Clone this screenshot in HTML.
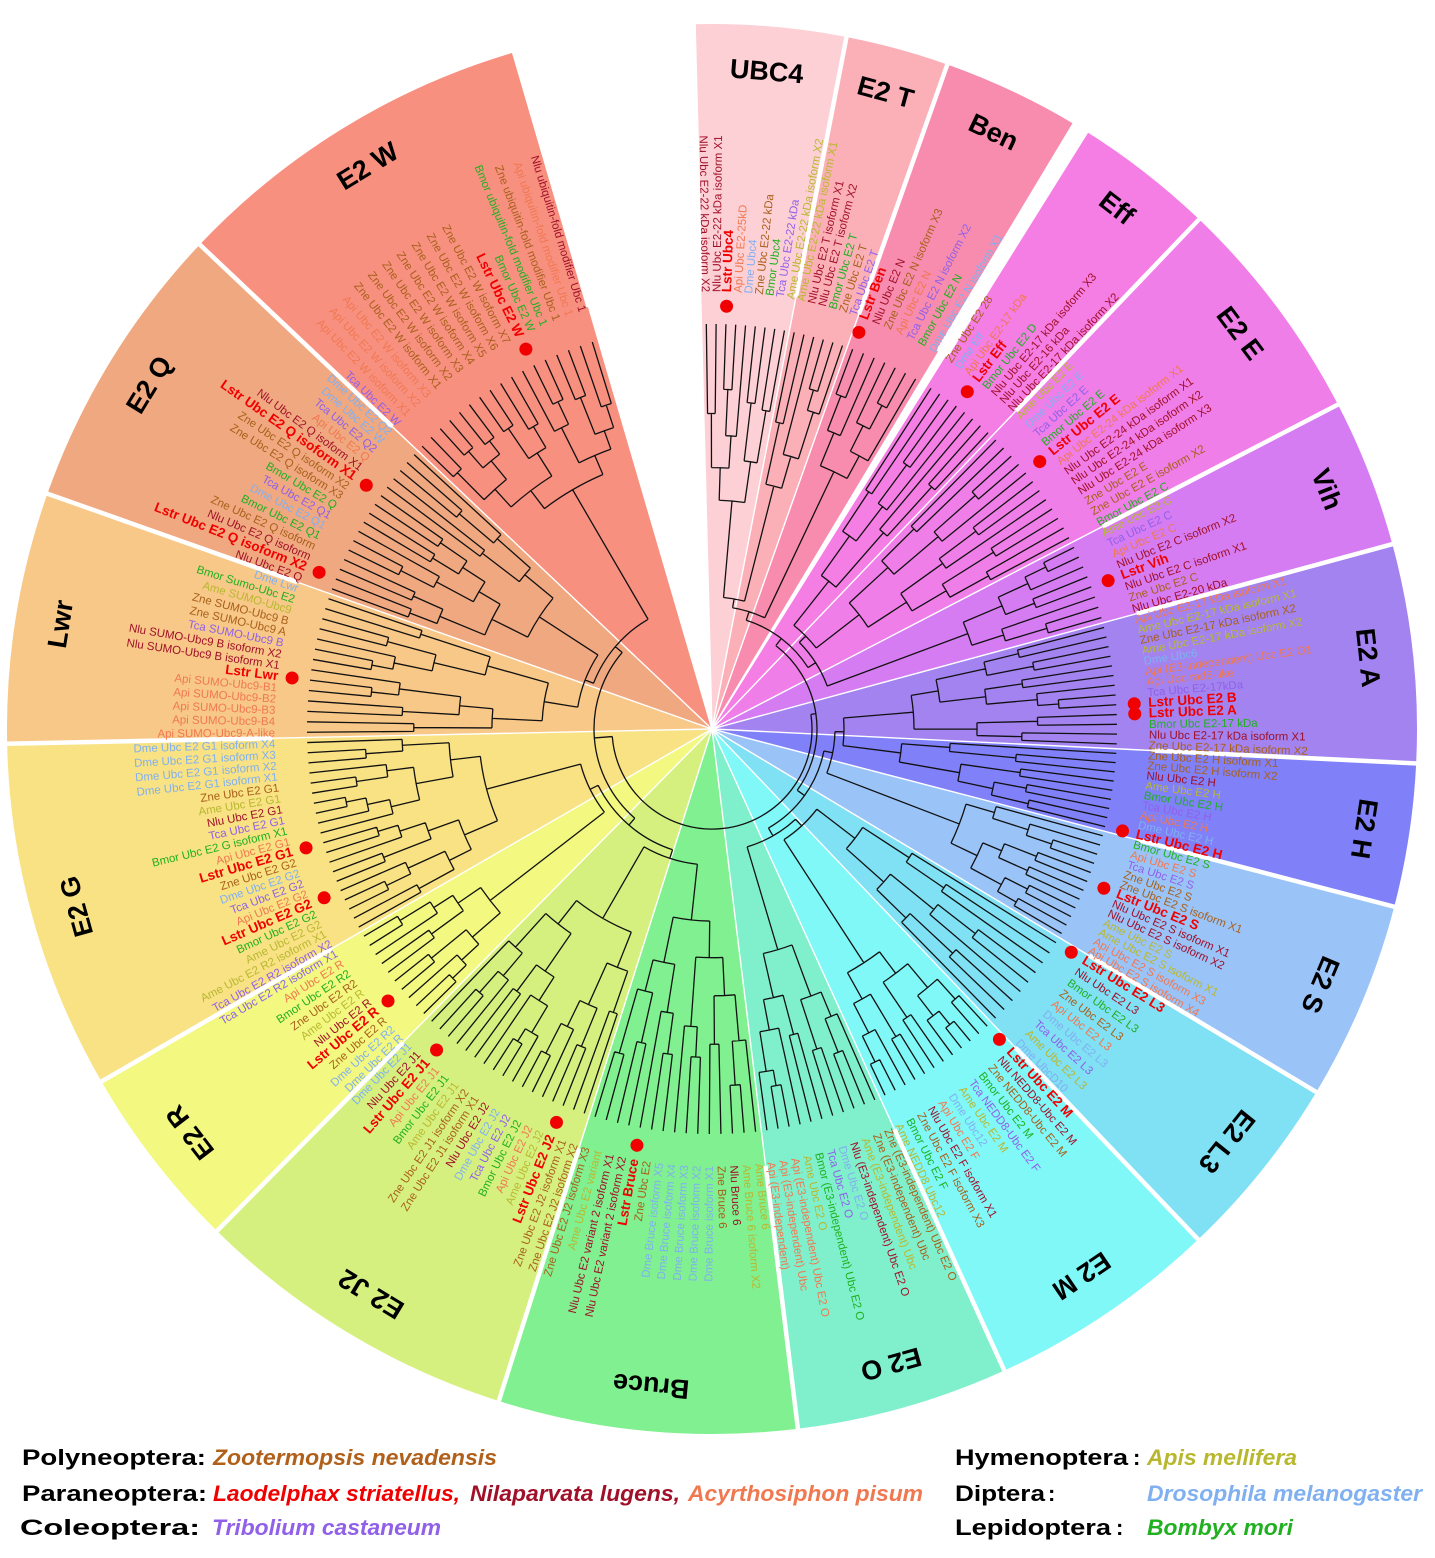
<!DOCTYPE html>
<html><head><meta charset="utf-8">
<style>
html,body{margin:0;padding:0;background:#fff;}
svg{display:block;font-family:"Liberation Sans",Arial,sans-serif;}
.lf text{font-size:11.5px;}
.z{fill:#a8601a}.n{fill:#a01028}.a{fill:#f07850}.d{fill:#80b0f0}.m{fill:#b8b830}.t{fill:#9060e8}.b{fill:#20b020}
.l{fill:#f00000;font-weight:bold;font-size:13.5px!important}
.ti{font-size:27px;font-weight:bold;fill:#000}
.lg{font-size:22px;font-weight:bold}
.lg .i{font-style:italic}
</style></head><body>
<svg id="sv" width="1435" height="1558" viewBox="0 0 1435 1558" xmlns="http://www.w3.org/2000/svg">
<g id="wedges"></g>
<g id="seps"></g>
<path id="tree" fill="none" stroke="#111" stroke-width="1.3"/>
<g id="dots"></g>
<g id="titles">
<text class="ti">UBC4</text><text class="ti">E2 T</text><text class="ti">Ben</text><text class="ti">Eff</text><text class="ti">E2 E</text><text class="ti">Vih</text><text class="ti">E2 A</text><text class="ti">E2 H</text><text class="ti">E2 S</text><text class="ti">E2 L3</text><text class="ti">E2 M</text><text class="ti">E2 O</text><text class="ti">Bruce</text><text class="ti">E2 J2</text><text class="ti">E2 R</text><text class="ti">E2 G</text><text class="ti">Lwr</text><text class="ti">E2 Q</text><text class="ti">E2 W</text>
</g>
<g class="lf" id="s0"><text class="n">Nlu Ubc E2-22 kDa isoform X2</text><text class="n">Nlu Ubc E2-22 kDa isoform X1</text><text class="l">Lstr Ubc4</text><text class="a">Api Ubc E2-25kD</text><text class="d">Dme Ubc4</text><text class="z">Zne Ubc E2-22 kDa</text><text class="b">Bmor Ubc4</text><text class="t">Tca Ubc E2-22 kDa</text><text class="m">Ame Ubc E2-22 kDa isoform X2</text></g>
<g class="lf" id="s1"><text class="m">Ame Ubc E2-22 kDa isoform X1</text><text class="n">Nlu Ubc E2 T isoform X1</text><text class="n">Nlu Ubc E2 T isoform X2</text><text class="b">Bmor Ubc E2 T</text><text class="z">Zne Ubc E2 T</text><text class="t">Tca Ubc E2 T</text></g>
<g class="lf" id="s2"><text class="l">Lstr Ben</text><text class="n">Nlu Ubc E2 N</text><text class="z">Zne Ubc E2 N isoform X3</text><text class="a">Api Ubc E2 N</text><text class="t">Tca Ubc E2 N isoform X2</text><text class="b">Bmor Ubc E2 N</text><text class="d">Dme Ubc E2 N isoform X1</text></g>
<g class="lf" id="s3"><text class="z">Zne Ubc E2 28</text><text class="d">Dme Eff</text><text class="a">Api Ubc E2-17 kDa</text><text class="l">Lstr Eff</text><text class="b">Bmor Ubc E2 D</text><text class="n">Nlu Ubc E2-17 kDa isoform X3</text><text class="n">Nlu Ubc E2-16 kDa</text><text class="n">Nlu Ubc E2-17 kDa isoform X2</text></g>
<g class="lf" id="s4"><text class="m">Ame Ubc E2 E</text><text class="d">Dme Ubc E2 E</text><text class="t">Tca Ubc E2 E</text><text class="b">Bmor Ubc E2 E</text><text class="l">Lstr Ubc E2 E</text><text class="a">Api Ubc E2-24 kDa isoform X1</text><text class="n">Nlu Ubc E2-24 kDa isoform X1</text><text class="n">Nlu Ubc E2-24 kDa isoform X2</text><text class="n">Nlu Ubc E2-24 kDa isoform X3</text><text class="z">Zne Ubc E2 E</text><text class="z">Zne Ubc E2 E isoform X2</text><text class="b">Bmor Ubc E2 C</text></g>
<g class="lf" id="s5"><text class="m">Ame Ubc E2 C</text><text class="t">Tca Ubc E2 C</text><text class="a">Api Ubc E2 C</text><text class="n">Nlu Ubc E2 C isoform X2</text><text class="l">Lstr Vih</text><text class="n">Nlu Ubc E2 C isoform X1</text><text class="z">Zne Ubc E2 C</text><text class="n">Nlu Ubc E2-20 kDa</text></g>
<g class="lf" id="s6"><text class="a">Api Ubc E2-17 kDa isoform X1</text><text class="m">Ame Ubc E2-17 kDa isoform X1</text><text class="z">Zne Ubc E2-17 kDa isoform X2</text><text class="m">Ame Ubc E2-17 kDa isoform X2</text><text class="d">Dme Ubc6</text><text class="a">Api (E3-independent) Ubc E2 O1</text><text class="a">Api Ubc rad6-like</text><text class="t">Tca Ubc E2-17kDa</text><text class="l">Lstr Ubc E2 B</text><text class="l">Lstr Ubc E2 A</text><text class="b">Bmor Ubc E2-17 kDa</text><text class="n">Nlu Ubc E2-17 kDa isoform X1</text><text class="z">Zne Ubc E2-17 kDa isoform X2</text></g>
<g class="lf" id="s7"><text class="z">Zne Ubc E2 H isoform X1</text><text class="z">Zne Ubc E2 H isoform X2</text><text class="n">Nlu Ubc E2 H</text><text class="m">Ame Ubc E2 H</text><text class="b">Bmor Ubc E2 H</text><text class="t">Tca Ubc E2 H</text><text class="a">Api Ubc E2 H</text><text class="d">Dme Ubc E2 H</text><text class="l">Lstr Ubc E2 H</text></g>
<g class="lf" id="s8"><text class="b">Bmor Ubc E2 S</text><text class="a">Api Ubc E2 S</text><text class="t">Tca Ubc E2 S</text><text class="z">Zne Ubc E2 S</text><text class="z">Zne Ubc E2 S isoform X1</text><text class="l">Lstr Ubc E2 S</text><text class="n">Nlu Ubc E2 S isoform X1</text><text class="n">Nlu Ubc E2 S isoform X2</text><text class="m">Ame Ubc E2 S</text><text class="m">Ame Ubc E2 S isoform X1</text><text class="a">Api Ubc E2 S isoform X3</text><text class="a">Api Ubc E2 S isoform X4</text></g>
<g class="lf" id="s9"><text class="l">Lstr Ubc E2 L3</text><text class="n">Nlu Ubc E2 L3</text><text class="b">Bmor Ubc E2 L3</text><text class="z">Zne Ubc E2 L3</text><text class="a">Api Ubc E2 L3</text><text class="d">Dme Ubc E2 L3</text><text class="t">Tca Ubc E2 L3</text><text class="m">Ame Ubc E2 L3</text><text class="d">Dme UbcD10</text></g>
<g class="lf" id="s10"><text class="l">Lstr Ubc E2 M</text><text class="n">Nlu NEDD8-Ubc E2 M</text><text class="z">Zne NEDD8-Ubc E2 M</text><text class="b">Bmor Ubc E2 M</text><text class="t">Tca NEDD8-Ubc E2 F</text><text class="m">Ame Ubc E2 M</text><text class="d">Dme Ubc12</text><text class="a">Api Ubc E2 F</text><text class="n">Nlu Ubc E2 F isoform X1</text><text class="z">Zne Ubc E2 F isoform X3</text><text class="b">Bmor Ubc E2 F</text><text class="m">Ame NEDD8 Ubc12</text></g>
<g class="lf" id="s11"><text class="z">Zne (E3-independent) Ubc E2 O</text><text class="z">Zne (E3-independent) Ubc</text><text class="m">Ame (E3-independent) Ubc</text><text class="n">Nlu (E3-independent) Ubc E2 O</text><text class="d">Dme Ubc E2 O</text><text class="t">Tca Ubc E2 O</text><text class="b">Bmor (E3-independent) Ubc E2 O</text><text class="m">Ame Ubc E2 O</text><text class="a">Api (E3-independent) Ubc E2 O</text><text class="a">Api (E3-independent) Ubc</text><text class="a">Api (E3-independent)</text></g>
<g class="lf" id="s12"><text class="m">Ame Bruce 6</text><text class="m">Ame Bruce 6 isoform X2</text><text class="n">Nlu Bruce 6</text><text class="z">Zne Bruce 6</text><text class="d">Dme Bruce isoform X1</text><text class="d">Dme Bruce isoform X2</text><text class="d">Dme Bruce isoform X3</text><text class="d">Dme Bruce isoform X4</text><text class="d">Dme Bruce isoform X5</text><text class="z">Zne Ubc E2</text><text class="l">Lstr Bruce</text><text class="n">Nlu Ubc E2 variant 2 isoform X2</text><text class="n">Nlu Ubc E2 variant 2 isoform X1</text><text class="m">Ame Ubc E2 variant</text><text class="z">Zne Ubc E2 J2 isoform X3</text></g>
<g class="lf" id="s13"><text class="z">Zne Ubc E2 J2 isoform X2</text><text class="z">Zne Ubc E2 J2 isoform X1</text><text class="l">Lstr Ubc E2 J2</text><text class="m">Ame Ubc E2 J2</text><text class="a">Api Ubc E2 J2</text><text class="b">Bmor Ubc E2 J2</text><text class="t">Tca Ubc E2 J2</text><text class="d">Dme Ubc E2 J2</text><text class="n">Nlu Ubc E2 J2</text><text class="z">Zne Ubc E2 J1 isoform X1</text><text class="z">Zne Ubc E2 J1 isoform X2</text><text class="m">Ame Ubc E2 J1</text><text class="b">Bmor Ubc E2 J1</text><text class="a">Api Ubc E2 J1</text><text class="l">Lstr Ubc E2 J1</text><text class="n">Nlu Ubc E2 J1</text><text class="d">Dme Ubc E2 J1</text></g>
<g class="lf" id="s14"><text class="d">Dme Ubc E2 R</text><text class="d">Dme Ubc E2 R2</text><text class="z">Zne Ubc E2 R</text><text class="l">Lstr Ubc E2 R</text><text class="n">Nlu Ubc E2 R</text><text class="m">Ame Ubc E2 R</text><text class="z">Zne Ubc E2 R2</text><text class="b">Bmor Ubc E2 R2</text><text class="a">Api Ubc E2 R</text><text class="t">Tca Ubc E2 R2 isoform X1</text></g>
<g class="lf" id="s15"><text class="t">Tca Ubc E2 R2 isoform X2</text><text class="m">Ame Ubc E2 R2 isoform X1</text><text class="m">Ame Ubc E2 G2</text><text class="b">Bmor Ubc E2 G2</text><text class="l">Lstr Ubc E2 G2</text><text class="a">Api Ubc E2 G2</text><text class="t">Tca Ubc E2 G2</text><text class="d">Dme Ubc E2 G2</text><text class="z">Zne Ubc E2 G2</text><text class="l">Lstr Ubc E2 G1</text><text class="a">Api Ubc E2 G1</text><text class="b">Bmor Ubc E2 G isoform X1</text><text class="t">Tca Ubc E2 G1</text><text class="n">Nlu Ubc E2 G1</text><text class="m">Ame Ubc E2 G1</text><text class="z">Zne Ubc E2 G1</text><text class="d">Dme Ubc E2 G1 isoform X1</text><text class="d">Dme Ubc E2 G1 isoform X2</text><text class="d">Dme Ubc E2 G1 isoform X3</text><text class="d">Dme Ubc E2 G1 isoform X4</text></g>
<g class="lf" id="s16"><text class="a">Api SUMO-Ubc9-A-like</text><text class="a">Api SUMO-Ubc9-B4</text><text class="a">Api SUMO-Ubc9-B3</text><text class="a">Api SUMO-Ubc9-B2</text><text class="a">Api SUMO-Ubc9-B1</text><text class="l">Lstr Lwr</text><text class="n">Nlu SUMO-Ubc9 B isoform X1</text><text class="n">Nlu SUMO-Ubc9 B isoform X2</text><text class="t">Tca SUMO-Ubc9 B</text><text class="z">Zne SUMO-Ubc9 A</text><text class="z">Zne SUMO-Ubc9 B</text><text class="m">Ame SUMO-Ubc9</text><text class="b">Bmor Sumo-Ubc E2</text><text class="d">Dme Lwr</text></g>
<g class="lf" id="s17"><text class="n">Nlu Ubc E2 Q</text><text class="l">Lstr Ubc E2 Q isoform X2</text><text class="n">Nlu Ubc E2 Q isoform</text><text class="z">Zne Ubc E2 Q isoform</text><text class="b">Bmor Ubc E2 Q1</text><text class="d">Dme Ubc E2 Q1</text><text class="t">Tca Ubc E2 Q1</text><text class="b">Bmor Ubc E2 Q</text><text class="z">Zne Ubc E2 Q isoform X3</text><text class="z">Zne Ubc E2 Q isoform X2</text><text class="l">Lstr Ubc E2 Q isoform X1</text><text class="n">Nlu Ubc E2 Q isoform X1</text><text class="a">Api Ubc E2 Q</text><text class="t">Tca Ubc E2 Q2</text><text class="d">Dme Ubc E2 W</text><text class="d">Dme Ubc E2 Q2</text></g>
<g class="lf" id="s18"><text class="t">Tca Ubc E2 W</text><text class="a">Api Ubc E2 W isoform X1</text><text class="a">Api Ubc E2 W isoform X2</text><text class="a">Api Ubc E2 W isoform X3</text><text class="z">Zne Ubc E2 W isoform X1</text><text class="z">Zne Ubc E2 W isoform X2</text><text class="z">Zne Ubc E2 W isoform X3</text><text class="z">Zne Ubc E2 W isoform X4</text><text class="z">Zne Ubc E2 W isoform X5</text><text class="z">Zne Ubc E2 W isoform X6</text><text class="z">Zne Ubc E2 W isoform X7</text><text class="l">Lstr Ubc E2 W</text><text class="b">Bmor Ubc E2 W</text><text class="b">Bmor ubiquitin-fold modifier Ubc 1</text><text class="z">Zne ubiquitin-fold modifier Ubc 1</text><text class="a">Api ubiquitin-fold modifier Ubc 1</text><text class="n">Nlu ubiquitin-fold modifier Ubc 1</text></g>
<g class="lg">
<text x="22" y="1465" fill="#000" textLength="184" lengthAdjust="spacingAndGlyphs">Polyneoptera:</text><text x="213" y="1465" class="i" fill="#b0601a" textLength="284" lengthAdjust="spacingAndGlyphs">Zootermopsis nevadensis</text>
<text x="22" y="1501" fill="#000" textLength="185" lengthAdjust="spacingAndGlyphs">Paraneoptera:</text><text x="213" y="1501" class="i" fill="#f00000" textLength="247" lengthAdjust="spacingAndGlyphs">Laodelphax striatellus,</text><text x="470" y="1501" class="i" fill="#a01028" textLength="210" lengthAdjust="spacingAndGlyphs">Nilaparvata lugens,</text><text x="688" y="1501" class="i" fill="#f07850" textLength="235" lengthAdjust="spacingAndGlyphs">Acyrthosiphon pisum</text>
<text x="20" y="1535" fill="#000" textLength="180" lengthAdjust="spacingAndGlyphs">Coleoptera:</text><text x="212" y="1535" class="i" fill="#9060e8" textLength="229" lengthAdjust="spacingAndGlyphs">Tribolium castaneum</text>
<text x="955" y="1465" fill="#000" textLength="173" lengthAdjust="spacingAndGlyphs">Hymenoptera</text><text x="1133" y="1465" fill="#000">:</text><text x="1147" y="1465" class="i" fill="#b8b830" textLength="150" lengthAdjust="spacingAndGlyphs">Apis mellifera</text>
<text x="955" y="1501" fill="#000" textLength="90" lengthAdjust="spacingAndGlyphs">Diptera</text><text x="1048" y="1501" fill="#000">:</text><text x="1147" y="1501" class="i" fill="#80b0f0" textLength="275" lengthAdjust="spacingAndGlyphs">Drosophila melanogaster</text>
<text x="955" y="1535" fill="#000" textLength="156" lengthAdjust="spacingAndGlyphs">Lepidoptera</text><text x="1116" y="1535" fill="#000">:</text><text x="1147" y="1535" class="i" fill="#20b020" textLength="146" lengthAdjust="spacingAndGlyphs">Bombyx mori</text>
</g>
</svg>
<script>
(function(){
var cx=712,cy=729,NS="http://www.w3.org/2000/svg";
var S=[[-91.5,-79,"#fdd0d6"],[-79,-70.5,"#fbb0b8"],[-70.5,-59,"#f78cae"],[-58,-46.3,"#f47ee4"],[-46.3,-27.4,"#f07ee8"],[-27.4,-15.2,"#d67cf2"],[-15.2,2.8,"#a383f0"],[2.8,14.6,"#8080f8"],[14.6,31,"#9ac4f8"],[31,46.4,"#80e0f4"],[46.4,65.5,"#80f8f8"],[65.5,83,"#80f0cc"],[83,107.6,"#80f090"],[107.6,134.6,"#d6f080"],[134.6,150,"#f2f880"],[150,178.8,"#f8e284"],[178.8,199.5,"#f8c888"],[199.5,223.4,"#f0a880"],[223.4,253.7,"#f89080"]];
function P(r,a){a=a*Math.PI/180;return [(cx+r*Math.cos(a)).toFixed(2),(cy+r*Math.sin(a)).toFixed(2)];}
function el(t,at,par){var e=document.createElementNS(NS,t);for(var k in at)e.setAttribute(k,at[k]);document.getElementById(par).appendChild(e);return e;}
var R=705;
S.forEach(function(s){var p=P(R,s[0]),q=P(R,s[1]);el("path",{d:"M"+cx+","+cy+"L"+p+"A"+R+" "+R+" 0 0 1 "+q+"Z",fill:s[2]},"wedges");});
S.forEach(function(s,i){var b=[s[0]];if(i==S.length-1)b.push(s[1]);if(i==3)b.push(s[0]-1);b.forEach(function(a){
 el("path",{d:"M"+P(0,a)+"L"+P(440,a),stroke:"#fff","stroke-width":1.4},"seps");
 el("path",{d:"M"+P(440,a)+"L"+P(712,a),stroke:"#fff","stroke-width":(i==3?6:4.5)},"seps");});});
var seed=7;function rnd(){seed=(seed*9301+49297)%233280;return seed/233280;}
var d="",TIP=405;
function L(r1,r2,a){d+="M"+P(r1,a)+"L"+P(r2,a);}
function A(r,a1,a2){if(a2<a1){var t=a1;a1=a2;a2=t;}d+="M"+P(r,a1)+"A"+r+" "+r+" 0 "+(a2-a1>180?1:0)+" 1 "+P(r,a2);}
function sub(ang,r){
 if(ang.length==1)return ang[0];
 var k=Math.max(1,Math.min(ang.length-1,Math.round(ang.length*(0.3+0.4*rnd()))));
 var parts=[ang.slice(0,k),ang.slice(k)],res=[];
 parts.forEach(function(p){
  if(p.length==1){L(r,TIP,p[0]);res.push(p[0]);}
  else{var dr=(TIP-r)/(Math.log(p.length)/Math.log(2)+1.3)*(0.6+0.6*rnd());var rc=r+Math.max(6,dr);var a=sub(p,rc);L(r,rc,a);res.push(a);}
 });
 A(r,res[0],res[1]);return (res[0]+res[1])/2;
}
var items=[];
S.forEach(function(s,i){
 var g=document.getElementById("s"+i),ts=g.getElementsByTagName("text"),n=ts.length,ang=[];
 for(var j=0;j<n;j++){var a=s[0]+(j+0.5)*(s[1]-s[0])/n;ang.push(a);var t=ts[j];
  var right=(a>-90&&a<90);
  if(right){t.setAttribute("transform","rotate("+a+" "+cx+" "+cy+")");t.setAttribute("x",cx+437);t.setAttribute("y",cy+4);}
  else{t.setAttribute("transform","rotate("+(a+180)+" "+cx+" "+cy+")");t.setAttribute("x",cx-437);t.setAttribute("y",cy+4);t.setAttribute("text-anchor","end");}
  if(t.getAttribute("class")=="l"){var p=P(423,a);el("circle",{cx:p[0],cy:p[1],r:6.5,fill:"#f00000"},"dots");}
 }
 var rs=170+rnd()*120;var a0=sub(ang,rs);items.push({a:a0,r:rs});
 var tt=document.getElementById("titles").getElementsByTagName("text")[i];var m=(s[0]+s[1])/2,pp=P(658,m);
 tt.setAttribute("transform","translate("+pp[0]+","+pp[1]+") rotate("+(m+90)+")");tt.setAttribute("text-anchor","middle");tt.setAttribute("dominant-baseline","middle");
});
function top(it,r){
 if(it.length==1){L(r,it[0].r,it[0].a);return it[0].a;}
 var k=Math.ceil(it.length/2),a1=top(it.slice(0,k),r+9),a2=top(it.slice(k),r+9);
 L(r,r+9,a1);L(r,r+9,a2);A(r,a1,a2);return (a1+a2)/2;
}
var ra=top(items.slice(0,12),105),rb=top(items.slice(12),118);
A(100,ra,rb);L(100,105,ra);L(100,118,rb);
document.getElementById("tree").setAttribute("d",d);
})();
</script>
</body></html>
